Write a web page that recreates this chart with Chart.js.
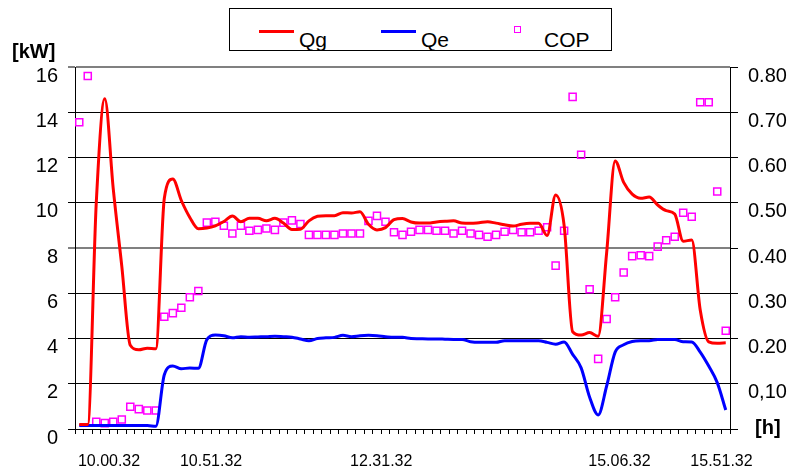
<!DOCTYPE html>
<html>
<head>
<meta charset="utf-8">
<script src="https://cdn.jsdelivr.net/npm/chart.js@4/dist/chart.umd.min.js"></script>
<style>
  body{margin:0;background:#fff;font-family:"Liberation Sans",Arial,sans-serif;}
  #wrap{position:relative;width:791px;height:476px;}
  #legend{position:absolute;left:229px;top:8px;width:381px;height:41px;border:1px solid #000;background:#fff;}
  .lg-line{position:absolute;width:35px;height:3px;top:21px;}
  .lg-txt{position:absolute;top:20px;font-size:21px;line-height:21px;color:#000;}
  .lg-box{position:absolute;left:284px;top:17px;width:5px;height:5px;border:1.5px solid #ff00ff;}
  .axt{position:absolute;font-weight:bold;font-size:20px;line-height:20px;color:#000;}
</style>
</head>
<body>
<div id="wrap">
  <canvas id="c" width="791" height="476"></canvas>
  <div id="legend">
    <div class="lg-line" style="left:29px;background:#ff0000"></div>
    <div class="lg-txt" style="left:69px">Qg</div>
    <div class="lg-line" style="left:151px;background:#0000ff"></div>
    <div class="lg-txt" style="left:191px">Qe</div>
    <div class="lg-box"></div>
    <div class="lg-txt" style="left:314px">COP</div>
  </div>
  <div class="axt" style="left:12px;top:41px">[kW]</div>
  <div class="axt" style="left:755px;top:417px">[h]</div>
</div>
<script>
// x tick labels sit on category boundaries
const tickPos = [4, 16, 36, 64, 76];
const tickText = ["10.00.32", "10.51.32", "12.31.32", "15.06.32", "15.51.32"];
const nCat = 77;

// Qg [kW], one value per category
const qg = [0.2, 0.2, 10, 14.6, 10.6, 7.2, 3.7, 3.5, 3.57, 3.55,
  10.2, 11.05, 10.1, 9.35, 8.85, 8.88, 8.98, 9.17, 9.41, 9.16,
  9.31, 9.31, 9.2, 9.31, 9.1, 8.82, 8.83, 9.2, 9.4, 9.43,
  9.43, 9.56, 9.55, 9.6, 9.05, 8.8, 8.9, 9.25, 9.3, 9.15,
  9.1, 9.1, 9.15, 9.18, 9.2, 9.1, 9.09, 9.12, 9.16, 9.1,
  9.03, 8.97, 9.05, 9.09, 9.09, 8.55, 10.34, 9.0, 4.3, 4.15,
  4.26, 4.1, 7.8, 11.85, 10.9, 10.38, 10.2, 10.25, 9.9, 9.65,
  9.5, 8.3, 8.35, 5.26, 3.85, 3.79, 3.81];

// Qe [kW]
const qe = [0.15, 0.15, 0.15, 0.15, 0.15, 0.15, 0.15, 0.15, 0.15, 0.12,
  2.4, 2.78, 2.66, 2.7, 2.68, 3.95, 4.15, 4.12, 4.03, 4.08,
  4.06, 4.07, 4.08, 4.1, 4.08, 4.06, 3.98, 3.9, 4.0, 4.03,
  4.05, 4.14, 4.08, 4.12, 4.14, 4.12, 4.08, 4.05, 4.05, 4.0,
  3.99, 3.98, 3.98, 3.97, 3.96, 3.96, 3.86, 3.83, 3.83, 3.83,
  3.9, 3.9, 3.9, 3.9, 3.9, 3.83, 3.75, 3.85, 3.3, 2.7,
  1.4, 0.62, 1.9, 3.4, 3.72, 3.87, 3.9, 3.9, 3.96, 3.96,
  3.96, 3.86, 3.85, 3.4, 2.78, 2.05, 0.84];

// COP (right axis)
const cop = [0.678, 0.78, 0.016, 0.013, 0.016, 0.021, 0.049, 0.044, 0.041, 0.041,
  0.248, 0.256, 0.268, 0.291, 0.305, 0.456, 0.458, 0.449, 0.432, 0.449,
  0.438, 0.44, 0.443, 0.44, 0.456, 0.461, 0.453, 0.429, 0.429, 0.429,
  0.429, 0.432, 0.432, 0.432, 0.46, 0.471, 0.458, 0.435, 0.429, 0.436,
  0.44, 0.44, 0.438, 0.438, 0.432, 0.438, 0.432, 0.429, 0.425, 0.429,
  0.436, 0.44, 0.435, 0.435, 0.438, 0.446, 0.361, 0.438, 0.734, 0.606,
  0.309, 0.155, 0.243, 0.291, 0.346, 0.382, 0.384, 0.382, 0.403, 0.417,
  0.425, 0.478, 0.469, 0.722, 0.722, 0.525, 0.217];

const pts = arr => arr.map((v, i) => ({x: i + 0.5, y: v}));

function gridCol(ctx){
  const v = ctx.tick && ctx.tick.value;
  return (v === 8 || v === 16) ? "#808080" : "#000";
}
function gridW(ctx){
  const v = ctx.tick && ctx.tick.value;
  return (v === 8 || v === 16) ? 2 : 1;
}

new Chart(document.getElementById("c"), {
  type: "line",
  data: {
    datasets: [
      {label: "Qg", data: pts(qg), borderColor: "#ff0000", borderWidth: 3, pointRadius: 0, cubicInterpolationMode: "monotone", yAxisID: "y"},
      {label: "Qe", data: pts(qe), borderColor: "#0000ff", borderWidth: 3, pointRadius: 0, cubicInterpolationMode: "monotone", yAxisID: "y"},
      {label: "COP", data: pts(cop), showLine: false, pointStyle: "rect", pointRadius: 5, pointBorderWidth: 1.5,
        pointBorderColor: "#ff00ff", pointBackgroundColor: "rgba(0,0,0,0)", yAxisID: "y1"}
    ]
  },
  options: {
    responsive: false,
    animation: false,
    devicePixelRatio: 1,
    layout: {padding: {top: 67, left: 0, right: 0, bottom: 0}},
    plugins: {legend: {display: false}, tooltip: {enabled: false}},
    scales: {
      x: {
        type: "linear", min: 0, max: nCat,
        grid: {drawOnChartArea: false, drawTicks: true, tickLength: 5, color: "#000"},
        border: {color: "#000", width: 1},
        ticks: {
          stepSize: 1, autoSkip: false, maxRotation: 0, minRotation: 0,
          color: "#000", font: {family: "Liberation Sans", size: 16}, padding: 18,
          callback: v => { const k = tickPos.indexOf(v); return k >= 0 ? tickText[k] : ""; }
        },
        afterFit: s => { s.height = 47; }
      },
      y: {
        position: "left", min: 0, max: 16,
        grid: {color: gridCol, lineWidth: gridW, tickLength: 7},
        border: {color: "#000", width: 1},
        ticks: {stepSize: 2, color: "#000", font: {family: "Liberation Sans", size: 20}, padding: 10, labelOffset: 9},
        afterFit: s => { s.width = 75; }
      },
      y1: {
        position: "right", min: 0, max: 0.8,
        grid: {drawOnChartArea: false, color: "#000", tickLength: 8},
        border: {color: "#000", width: 1},
        ticks: {
          stepSize: 0.1, color: "#000", font: {family: "Liberation Sans", size: 20}, padding: 10, labelOffset: 9,
          callback: v => {
            const r = Math.round(v * 100) / 100;
            if (r === 0) return "";
            if (r === 0.1) return "0,10";
            return r.toFixed(2);
          }
        },
        afterFit: s => { s.width = 61; }
      }
    }
  }
});
</script>
</body>
</html>
